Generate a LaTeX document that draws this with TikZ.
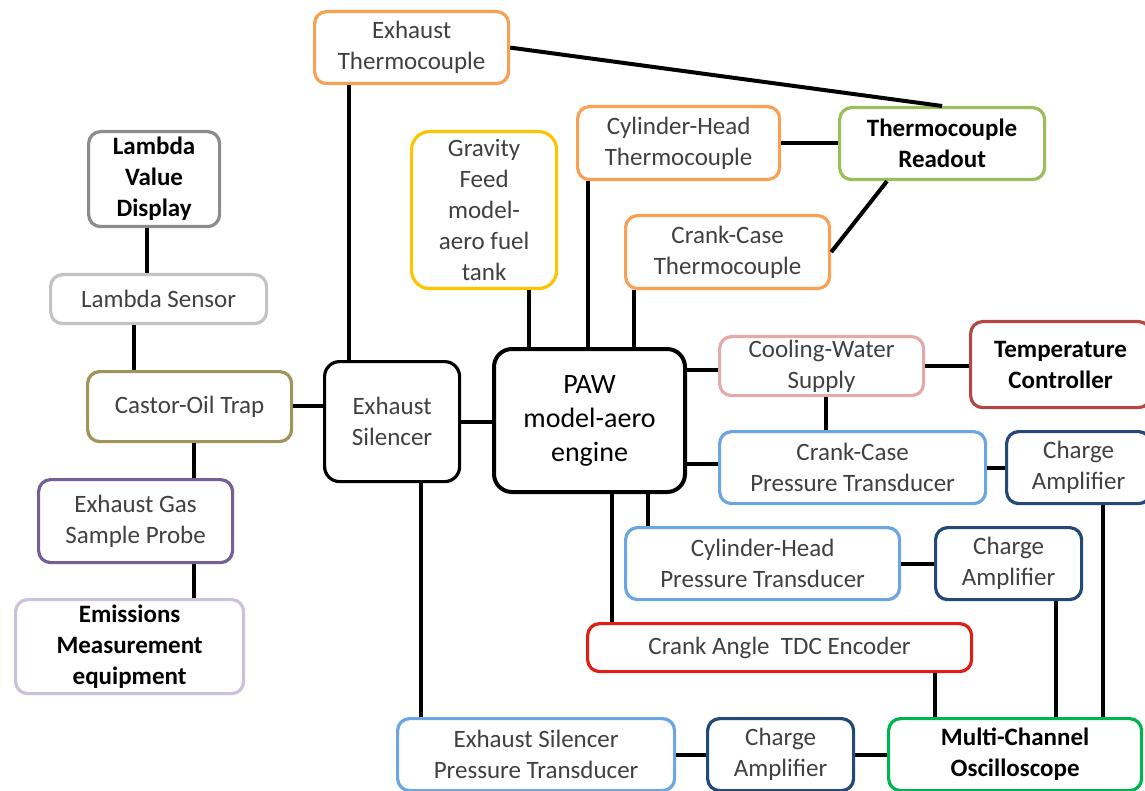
\documentclass[tikz,border=0pt]{standalone}
\usepackage{fontspec}
\setmainfont{Carlito}
\definecolor{txt}{RGB}{64,64,64}
\definecolor{corange}{RGB}{248,160,84}
\definecolor{cyellow}{RGB}{255,196,0}
\definecolor{cgreen}{RGB}{155,190,89}
\definecolor{cgray}{RGB}{140,140,140}
\definecolor{clgray}{RGB}{195,195,195}
\definecolor{colive}{RGB}{160,148,90}
\definecolor{cpurple}{RGB}{118,94,152}
\definecolor{clpurple}{RGB}{204,192,222}
\definecolor{cpink}{RGB}{228,170,170}
\definecolor{cdred}{RGB}{180,70,68}
\definecolor{cblue}{RGB}{108,165,228}
\definecolor{cnavy}{RGB}{36,72,120}
\definecolor{cred}{RGB}{225,30,20}
\definecolor{cosc}{RGB}{0,180,80}
\tikzset{
  box/.style={draw, rounded corners=12pt, line width=3.2pt, fill=white, align=center,
    inner sep=0pt, anchor=north west, text=txt, font=\fontsize{25}{31}\selectfont},
  boldbox/.style={box, text=black, font=\fontsize{25}{31}\selectfont\bfseries},
  wire/.style={line width=4pt, black},
}
\begin{document}
\begin{tikzpicture}[x=1pt,y=-1pt]
\useasboundingbox (0,0) rectangle (1145,791);
% wires first (boxes drawn over them)
\coordinate (x147) at (147,0);
\coordinate (x134) at (134,0);
\coordinate (x194) at (194,0);
\coordinate (x349) at (349,0);
\coordinate (x421) at (421,0);
\coordinate (x529) at (529,0);
\coordinate (x588) at (588,0);
\coordinate (x634) at (634,0);
\coordinate (x612) at (612,0);
\coordinate (x648) at (648,0);
\coordinate (x826) at (826,0);
\coordinate (x887) at (887,0);
\coordinate (x935) at (935,0);
\coordinate (x1056) at (1056,0);
\coordinate (x1103) at (1103,0);
\coordinate (y370) at (0,370);
\coordinate (y464) at (0,464);
\coordinate (y406) at (0,406);
% boxes
\node[box, draw=corange, minimum width=194, minimum height=72] (exhtc) at (313,10) {Exhaust\\Thermocouple};
\node[box, draw=cyellow, minimum width=145, minimum height=157, rounded corners=18pt] (grav) at (410,130) {Gravity\\Feed\\model-\\aero fuel\\tank};
\node[box, draw=corange, minimum width=202, minimum height=73] (chtc) at (576,105) {Cylinder-Head\\Thermocouple};
\node[boldbox, draw=cgreen, minimum width=205, minimum height=72] (read) at (838,106) {Thermocouple\\Readout};
\node[box, draw=corange, minimum width=204, minimum height=73] (cctc) at (624,214) {Crank-Case\\Thermocouple};
\node[boldbox, draw=cgray, minimum width=131, minimum height=95] (lvd) at (87,130) {Lambda\\Value\\Display};
\node[box, draw=clgray, minimum width=216, minimum height=49] (ls) at (49,273) {Lambda Sensor};
\node[box, draw=colive, minimum width=204, minimum height=70] (cot) at (86,370) {Castor-Oil Trap};
\node[box, draw=cpurple, minimum width=194, minimum height=83] (egp) at (37,478) {Exhaust Gas\\Sample Probe};
\node[boldbox, draw=clpurple, minimum width=228, minimum height=94] (emi) at (14,598) {Emissions\\Measurement\\equipment};
\node[box, draw=black, minimum width=135, minimum height=120, rounded corners=15pt] (sil) at (323,360) {Exhaust\\Silencer};
\node[box, draw=black, text=black, line width=4pt, rounded corners=18pt, minimum width=191, minimum height=143, font=\fontsize{28}{34}\selectfont] (paw) at (492,347) {PAW\\model-aero\\engine};
\node[box, draw=cpink, minimum width=204, minimum height=59] (cws) at (718,335) {Cooling-Water\\Supply};
\node[boldbox, draw=cdred, minimum width=180, minimum height=86] (tc) at (969,320) {Temperature\\Controller};
\node[box, draw=cblue, minimum width=266, minimum height=72] (ccpt) at (718,430) {Crank-Case\\Pressure Transducer};
\node[box, draw=cnavy, minimum width=144, minimum height=72] (ca1) at (1005,430) {Charge\\Amplifier};
\node[box, draw=cblue, minimum width=274, minimum height=72] (chpt) at (624,526) {Cylinder-Head\\Pressure Transducer};
\node[box, draw=cnavy, minimum width=146, minimum height=72] (ca2) at (934,526) {Charge\\Amplifier};
\node[box, draw=cred, minimum width=384, minimum height=48] (enc) at (586,622) {Crank Angle\ \ TDC Encoder};
\node[box, draw=cblue, minimum width=277, minimum height=72] (espt) at (396,717) {Exhaust Silencer\\Pressure Transducer};
\node[box, draw=cnavy, minimum width=146, minimum height=72] (ca3) at (706,717) {Charge\\Amplifier};
\node[boldbox, draw=cosc, minimum width=253, minimum height=72] (osc) at (887,717) {Multi-Channel\\Oscilloscope};
% wires
\draw[wire] (exhtc.east) -- (read.north);
\draw[wire] (exhtc.south -| x349) -- (sil.north -| x349);
\draw[wire] (grav.south -| x529) -- (paw.north -| x529);
\draw[wire] (chtc.south -| x588) -- (paw.north -| x588);
\draw[wire] (cctc.south -| x634) -- (paw.north -| x634);
\draw[wire] (chtc.east) -- (chtc.east -| read.west);
\draw[wire] (cctc.east) -- (read.south -| x887);
\draw[wire] (lvd.south -| x147) -- (ls.north -| x147);
\draw[wire] (ls.south -| x134) -- (cot.north -| x134);
\draw[wire] (cot.east |- y406) -- (sil.west |- y406);
\draw[wire] (cot.south -| x194) -- (egp.north -| x194);
\draw[wire] (egp.south -| x194) -- (emi.north -| x194);
\draw[wire] (sil.east) -- (sil.east -| paw.west);
\draw[wire] (sil.south -| x421) -- (espt.north -| x421);
\draw[wire] (paw.east |- y370) -- (cws.west |- y370);
\draw[wire] (cws.east) -- (cws.east -| tc.west);
\draw[wire] (cws.south -| x826) -- (ccpt.north -| x826);
\draw[wire] (paw.east |- y464) -- (ccpt.west |- y464);
\draw[wire] (ccpt.east) -- (ca1.west);
\draw[wire] (paw.south -| x612) -- (enc.north -| x612);
\draw[wire] (paw.south -| x648) -- (chpt.north -| x648);
\draw[wire] (chpt.east) -- (ca2.west);
\draw[wire] (ca1.south -| x1103) -- (osc.north -| x1103);
\draw[wire] (ca2.south -| x1056) -- (osc.north -| x1056);
\draw[wire] (enc.south -| x935) -- (osc.north -| x935);
\draw[wire] (espt.east) -- (ca3.west);
\draw[wire] (ca3.east) -- (osc.west);
\end{tikzpicture}
\end{document}
